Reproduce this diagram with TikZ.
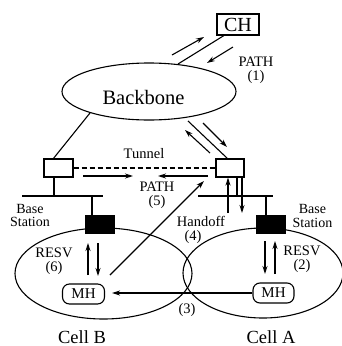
\documentclass[tikz,border=0pt]{standalone}
\usepackage{fontspec}
\setmainfont{Liberation Serif}
\usetikzlibrary{shapes.geometric,arrows.meta,calc}
\begin{document}
\begin{tikzpicture}[x=1pt,y=-1pt,
  ln/.style={line width=1.1pt},
  arr/.style={line width=1.1pt,-{Stealth[length=8pt,width=5pt]}},
  lbl/.style={font=\fontsize{14.5}{14.5}\selectfont,align=center,inner sep=0pt},
  smallbox/.style={draw,line width=1.1pt,minimum width=29pt,minimum height=18pt,inner sep=0pt},
  bsbox/.style={fill=black,minimum width=30pt,minimum height=19pt,inner sep=0pt},
  mhbox/.style={draw,line width=1.1pt,rounded corners=7pt,minimum width=42pt,minimum height=20pt,inner sep=0pt,font=\fontsize{15}{15}\selectfont},
  cell/.style={draw,line width=1.1pt,ellipse,inner sep=0pt},
  big/.style={inner sep=0pt,font=\fontsize{18.5}{18.5}\selectfont}]
\useasboundingbox (0,0) rectangle (342,346);

% Backbone and CH
\node[cell,minimum width=174pt,minimum height=57pt] (bb) at (149,91.5) {};
\node[font=\fontsize{20.5}{20.5}\selectfont,inner sep=0pt] (bbt) at (143.5,97) {Backbone};
\node[draw,line width=1.1pt,minimum width=42pt,minimum height=21pt,inner sep=0pt,font=\fontsize{20}{20}\selectfont] (ch) at (238,24.5) {CH};
\coordinate (chb) at (224,35.5);
\coordinate (bbtop) at (178,64);
\draw[ln] (chb) -- (bbtop);
\coordinate (a1s) at (172,55); \coordinate (a1e) at (204,37);
\coordinate (a2s) at (233,47); \coordinate (a2e) at (207,63);
\draw[arr] (a1s) -- (a1e);
\draw[arr] (a2s) -- (a2e);
\node[lbl] (path1) at (256,70.5) {PATH\\(1)};

% small boxes and tunnel
\node[smallbox] (lbox) at (58.5,168) {};
\node[smallbox,minimum width=28pt] (rbox) at (230,168) {};
\coordinate (bbl) at (90,113);
\coordinate (lboxt) at (53,159);
\draw[ln] (bbl) -- (lboxt);
\coordinate (bbr) at (188,121);
\coordinate (rboxt) at (228,159);
\draw[ln] (bbr) -- (rboxt);
\coordinate (a3s) at (203,123); \coordinate (a3e) at (227,147);
\coordinate (a4s) at (210,153); \coordinate (a4e) at (185,130);
\draw[arr] (a3s) -- (a3e);
\draw[arr] (a4s) -- (a4e);
\draw[ln,dashed,dash pattern=on 5pt off 3pt] (lbox.east) -- (rbox.west);
\node[lbl] (tunnel) at (144,154) {Tunnel};
\coordinate (a5s) at (83,176); \coordinate (a5e) at (133,176);
\coordinate (a6s) at (208,176); \coordinate (a6e) at (158,176);
\draw[arr] (a5s) -- (a5e);
\draw[arr] (a6s) -- (a6e);
\node[lbl] (path5) at (157,195.5) {PATH\\(5)};

% cells
\node[cell,minimum width=177pt,minimum height=91pt] (cellB) at (103.5,273.5) {};
\node[cell,minimum width=160pt,minimum height=90pt] (cellA) at (263,273) {};

% base station wiring left
\coordinate (lv) at (54,196);
\draw[ln] (lbox.south -| lv) -- (lv);
\coordinate (lh1) at (22,196); \coordinate (lh2) at (103,196);
\draw[ln] (lh1) -- (lh2);
\node[bsbox] (bsB) at (100,224.5) {};
\coordinate (lv2) at (92,196);
\draw[ln] (lv2) -- (bsB.north -| lv2);
\node[lbl,font=\fontsize{14}{13.5}\selectfont] (bsBt) at (30,215.5) {Base\\Station};

% base station wiring right
\coordinate (rv) at (237,196);
\draw[ln] (rbox.south -| rv) -- (rv);
\coordinate (rh1) at (198,196); \coordinate (rh2) at (273,196);
\draw[ln] (rh1) -- (rh2);
\node[bsbox] (bsA) at (271,224.5) {};
\coordinate (rv2) at (266,196);
\draw[ln] (rv2) -- (bsA.north -| rv2);
\node[lbl,font=\fontsize{14}{13.5}\selectfont] (bsAt) at (312.5,216) {Base\\Station};
\coordinate (a7s) at (228,213); \coordinate (a8e) at (242,213);
\draw[arr] (a7s) -- (a7s |- rbox.south);
\draw[arr] (rbox.south -| a8e) -- (a8e);
\node[lbl] (hand) at (201,221) {Handoff};
\node[lbl] (hand4) at (193,237.5) {(4)};

% mobile hosts
\node[mhbox] (mhB) at (83.5,294) {MH};
\node[mhbox,minimum width=41pt] (mhA) at (273.5,293) {MH};
\draw[arr,shorten >=7pt] (mhA.west) -- (mhB.east |- mhA.west);
\node[lbl] (l3) at (187,310) {(3)};
\coordinate (a9s) at (110,275); \coordinate (a9e) at (204,181);
\draw[arr] (a9s) -- (a9e);

% RESV arrows
\coordinate (r6a) at (88,275); \coordinate (r6b) at (88,243);
\coordinate (r6c) at (98,243); \coordinate (r6d) at (98,276);
\draw[arr] (r6a) -- (r6b);
\draw[arr] (r6c) -- (r6d);
\node[lbl] (resv6) at (54,261) {RESV\\(6)};
\coordinate (r2a) at (265,241); \coordinate (r2b) at (265,274);
\coordinate (r2c) at (275,274); \coordinate (r2d) at (275,241);
\draw[arr] (r2a) -- (r2b);
\draw[arr] (r2c) -- (r2d);
\node[lbl] (resv2) at (302,259) {RESV\\(2)};

% cell labels
\node[big,anchor=base] (cB) at (82,343.5) {Cell B};
\node[big,anchor=base] (cA) at (271,343.5) {Cell A};
\end{tikzpicture}
\end{document}
